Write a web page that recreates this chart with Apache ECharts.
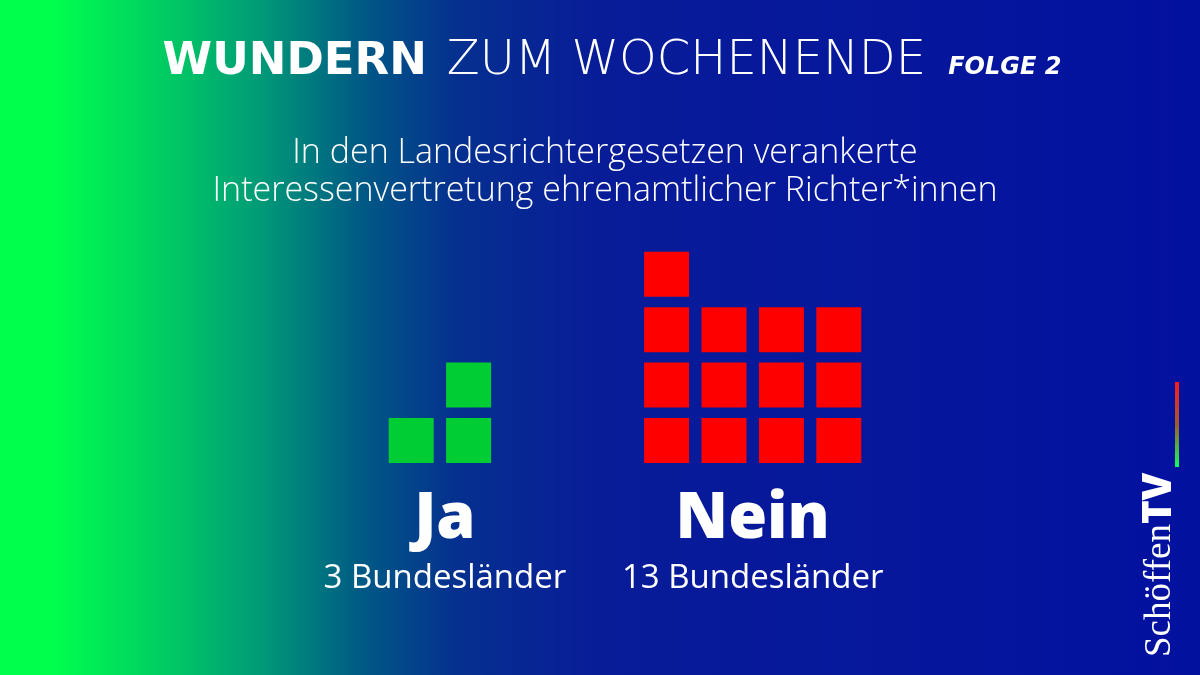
<!DOCTYPE html>
<html>
<head>
<meta charset="utf-8">
<script src="https://cdn.jsdelivr.net/npm/echarts@6/dist/echarts.min.js"></script>
<style>html,body{margin:0;padding:0;}#c{width:1200px;height:675px;}</style>
</head>
<body>
<div id="c"></div>
<script>
// ---- data ----
const categories = ['Ja', 'Nein'];
const counts = [3, 13];
const subLabels = ['3 Bundesländer', '13 Bundesländer'];
const columnsPerGroup = [2, 4];
const remainderAlign = ['right', 'left'];
const groupStart = [0, 4.45];
const titleParts = ['WUNDERN', 'ZUM WOCHENENDE', 'FOLGE 2'];
const subtitleLines = ['In den Landesrichtergesetzen verankerte', 'Interessenvertretung ehrenamtlicher Richter*innen'];
const groupColors = ['#00cc33', '#ff0000'];

// ---- waffle layout ----
function cells(g) {
  const n = counts[g], c = columnsPerGroup[g];
  const full = Math.floor(n / c) * c, rem = n - full;
  const out = [];
  for (let i = 0; i < n; i++) {
    const row = Math.floor(i / c);
    let col = i % c;
    if (i >= full && remainderAlign[g] === 'right') col = c - rem + (i - full);
    out.push([groupStart[g] + col, row]);
  }
  return out;
}

const font = '"Open Sans", Lato, sans-serif';
const wide = '"DejaVu Sans", "Open Sans", sans-serif';
const chart = echarts.init(document.getElementById('c'), null, {renderer: 'canvas'});

const series = categories.map((name, g) => ({
  type: 'scatter',
  name: name,
  symbol: 'rect',
  symbolSize: [45, 45],
  itemStyle: {color: groupColors[g], opacity: 1},
  data: cells(g),
  silent: true,
  z: 3
}));

function labelSeries(y, fmt, style) {
  return {
    type: 'scatter',
    symbolSize: 1,
    itemStyle: {color: 'rgba(0,0,0,0)', opacity: 1},
    silent: true,
    clip: false,
    data: categories.map((name, g) => ({
      value: [groupStart[g] + (columnsPerGroup[g] - 1) / 2, y],
      label: Object.assign({
        show: true, position: 'inside', offset: [g === 0 ? 5 : 0, 0],
        formatter: fmt(g), color: '#ffffff', opacity: 1
      }, style)
    }))
  };
}
series.push(labelSeries(-1.43, g => categories[g], {fontFamily: font, fontWeight: 800, fontSize: 63}));
series.push(labelSeries(-2.5, g => subLabels[g], {fontFamily: font, fontWeight: 400, fontSize: 33}));

chart.setOption({
  backgroundColor: {
    type: 'linear', x: 0, y: 0, x2: 1, y2: 0,
    colorStops: [
      {offset: 0, color: '#00ff4d'},
      {offset: 0.045, color: '#00ff4d'},
      {offset: 0.15, color: '#00c466'},
      {offset: 0.22, color: '#009878'},
      {offset: 0.3, color: '#005a85'},
      {offset: 0.38, color: '#05308f'},
      {offset: 0.5, color: '#081c98'},
      {offset: 1, color: '#03119f'}
    ]
  },
  animation: false,
  title: [{
    text: '{b|' + titleParts[0] + '}{l|' + titleParts[1] + '}{f|' + titleParts[2] + '}',
    left: 607, textAlign: 'center', top: 33,
    textStyle: {
      rich: {
        b: {color: '#fff', fontFamily: wide, fontWeight: 700, fontSize: 45},
        l: {color: '#fff', fontFamily: wide, fontWeight: 200, fontSize: 48, padding: [0, 0, 0, 20]},
        f: {color: '#fff', fontFamily: wide, fontWeight: 700, fontStyle: 'italic', fontSize: 24, padding: [12, 0, 0, 22]}
      }
    }
  }, {
    text: subtitleLines.join('\n'),
    left: 600, textAlign: 'center', top: 129,
    textStyle: {color: '#fff', fontFamily: font, fontWeight: 300, fontSize: 34, lineHeight: 38}
  }],
  grid: {left: 353.8, right: 303.8, top: 218.9, bottom: 68.3},
  xAxis: {type: 'value', min: -1, max: 8.45, show: false},
  yAxis: {type: 'value', min: -3, max: 4, show: false},
  series: series,
  graphic: [{
    type: 'rect',
    shape: {x: 1175, y: 382, width: 4, height: 85},
    style: {fill: {type: 'linear', x: 0, y: 0, x2: 0, y2: 1, colorStops: [
      {offset: 0, color: '#ff1a1a'}, {offset: 0.5, color: '#a05a2a'}, {offset: 1, color: '#10ff55'}]}}
  }, {
    type: 'text',
    x: 1180, y: 657,
    rotation: Math.PI / 2,
    style: {
      text: '{s|Schöffen}{t|TV}',
      fill: '#fff',
      textVerticalAlign: 'bottom',
      rich: {
        s: {fontFamily: '"Liberation Serif", "DejaVu Serif", serif', fontSize: 37, fill: '#fff', color: '#fff'},
        t: {fontFamily: font, fontWeight: 800, fontSize: 40, fill: '#fff', color: '#fff'}
      }
    }
  }]
});
</script>
</body>
</html>
